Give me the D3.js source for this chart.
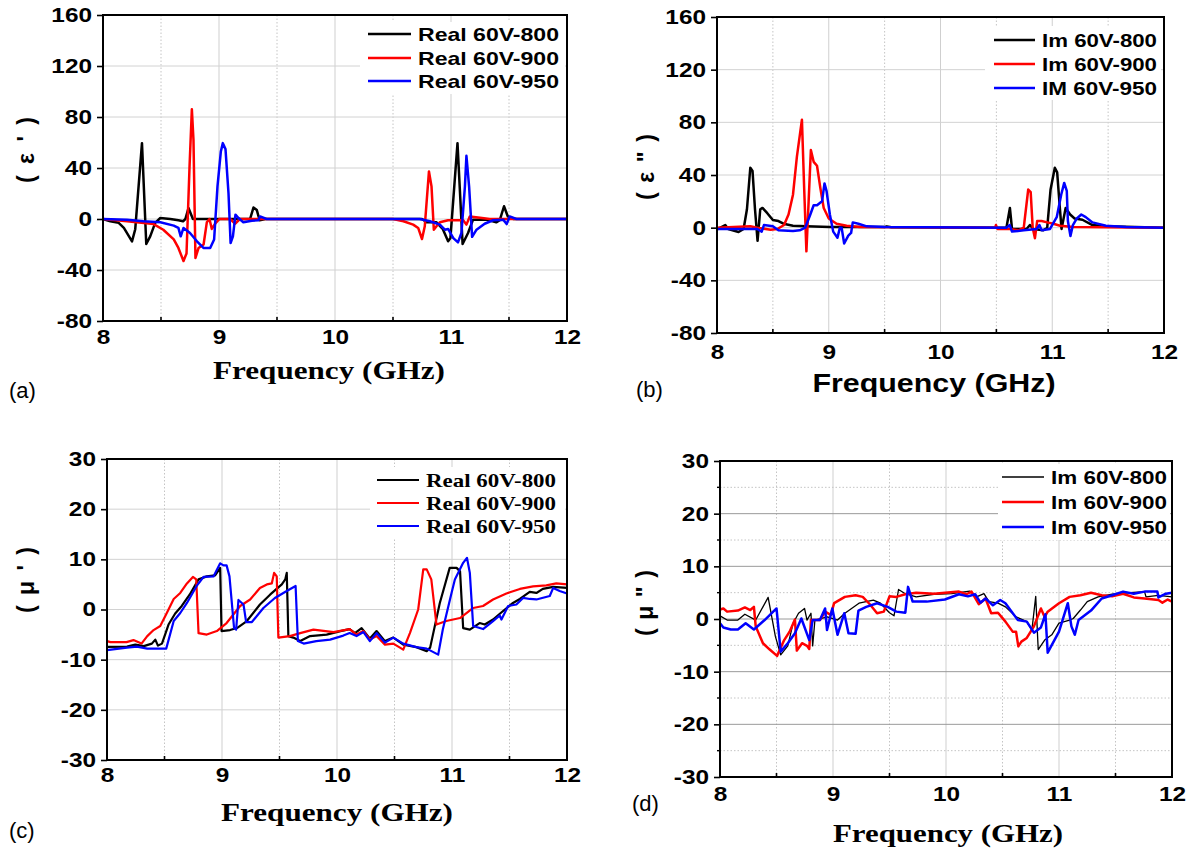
<!DOCTYPE html>
<html>
<head>
<meta charset="utf-8">
<script src="https://cdn.jsdelivr.net/npm/d3@7"></script>
<style>
  body { margin: 0; background: #fff; }
  svg { display: block; }
</style>
</head>
<body>
<div id="chart"></div>
<script>
// ---- data: [frequency GHz, value] ----
var xTicks = [8, 9, 10, 11, 12];
var epsTicks = [-80, -40, 0, 40, 80, 120, 160];
var muTicks = [-30, -20, -10, 0, 10, 20, 30];
var muMinor = [-25, -15, -5, 5, 15, 25];

var realLabels = ["Real 60V-800", "Real 60V-900", "Real 60V-950"];
var epsImLabels = ["Im 60V-800", "Im 60V-900", "IM 60V-950"];
var muImLabels = ["Im 60V-800", "Im 60V-900", "Im 60V-950"];

// (a) real permittivity
var epsReal800 = [[8.0,0],[8.063,-1.8],[8.135,-3],[8.18,-7],[8.25,-17.5],[8.278,-8],[8.336,59.5],[8.373,-19.6],[8.407,-13.6],[8.45,-3],[8.494,0.8],[8.58,0],[8.65,-1],[8.69,-1.8],[8.71,0],[8.737,8.6],[8.775,0],[9.268,0],[9.297,9],[9.326,7],[9.35,-1],[9.40,0],[10.75,0],[10.79,-2.6],[10.875,-2.6],[10.93,-8],[10.975,-17.5],[10.995,-15],[11.056,59.5],[11.10,-19.6],[11.147,-11],[11.19,-0.5],[11.305,-0.5],[11.39,-2.6],[11.42,-1],[11.457,10],[11.49,2],[11.535,0],[12,0]];
var epsReal900 = [[8.0,0],[8.207,-1.8],[8.436,-4],[8.52,-8.4],[8.61,-16],[8.65,-22.7],[8.694,-33],[8.72,-27],[8.746,41],[8.766,86],[8.78,62],[8.797,-30.5],[8.824,-22.7],[8.867,-20],[8.895,-2.6],[8.918,0],[8.938,-7.8],[8.967,-3.7],[9.004,0],[9.096,0],[9.14,-3.7],[9.18,0],[10.5,0],[10.59,-1.8],[10.674,-4.4],[10.717,-7],[10.75,-15.7],[10.774,-5.7],[10.81,37.3],[10.832,25.6],[10.852,-8.4],[10.875,-5.7],[10.904,-2.6],[10.975,-1],[11.105,-1],[11.133,-4.4],[11.162,2],[11.25,1],[11.334,0],[12,0]];
var epsReal950 = [[8.0,0],[8.207,-0.5],[8.35,-1.8],[8.494,-2.6],[8.61,-5.2],[8.65,-7],[8.67,-13.6],[8.694,-7],[8.75,-11],[8.81,-17.5],[8.866,-22.7],[8.924,-22.7],[8.958,-16],[8.987,25.6],[9.016,53],[9.033,59.5],[9.056,54.8],[9.082,20],[9.10,-18.8],[9.12,-13.6],[9.142,3.4],[9.168,0.8],[9.21,-2.6],[9.283,-1.3],[9.34,-1],[9.354,2],[9.41,0],[10.73,0],[10.818,-1.8],[10.904,-4.4],[10.947,-8.4],[10.975,-7.8],[11.02,-15],[11.06,-18.3],[11.09,-11],[11.12,25.6],[11.133,49.6],[11.156,25.6],[11.182,-14],[11.22,-8.4],[11.29,-3.7],[11.363,-1],[11.45,-0.5],[11.48,-4],[11.506,2],[11.564,0],[12,0]];

// (b) imaginary permittivity
var epsIm800 = [[8.0,-1.3],[8.074,2],[8.10,-1],[8.193,-3.3],[8.238,-1],[8.268,14],[8.298,45.5],[8.318,43],[8.34,14],[8.363,-10],[8.387,14],[8.407,15],[8.45,11],[8.50,5.8],[8.55,5],[8.595,3],[8.68,1.5],[8.80,1],[9.01,0.5],[9.5,0.5],[9.52,1],[9.56,0.3],[10.59,0],[10.621,15],[10.64,-1],[10.77,-1],[10.80,2],[10.83,-1],[10.92,-2],[10.955,0],[10.985,29],[11.023,45.5],[11.044,42],[11.068,15],[11.083,-1],[11.12,15],[11.16,10],[11.2,7],[11.27,6],[11.36,2],[11.48,1],[12,0]];
var epsIm900 = [[8.0,0],[8.298,1],[8.36,0],[8.48,-1.5],[8.54,-1],[8.6,2],[8.64,10],[8.68,25],[8.715,54],[8.76,82],[8.78,30],[8.80,-18],[8.82,20],[8.84,59],[8.865,50],[8.895,47],[8.925,30],[8.955,15],[9.0,7],[9.07,3],[9.16,1.5],[9.28,0.5],[10.49,0],[10.496,2],[10.51,-1],[10.62,-1],[10.70,-2],[10.745,0],[10.785,29],[10.807,27],[10.825,0],[10.845,-8],[10.865,5],[10.905,5],[10.955,4],[11.01,3],[11.07,1.5],[11.19,0.5],[12,0]];
var epsIm950 = [[8.0,-1],[8.268,-1],[8.36,-1],[8.40,-3],[8.42,2],[8.50,1],[8.55,-2],[8.68,-2.5],[8.74,-2],[8.79,0],[8.835,10],[8.865,17],[8.895,17],[8.94,20],[8.962,33.6],[8.98,28],[9.01,10],[9.04,-3],[9.078,-7.6],[9.10,0],[9.115,0],[9.138,-12],[9.175,-6],[9.2,-4],[9.215,4],[9.265,3],[9.34,1],[9.5,0.5],[10.59,0],[10.62,2],[10.64,-3],[10.745,-2],[10.86,-1],[10.885,2],[10.905,-2],[10.98,-1],[11.04,8],[11.08,25],[11.107,34],[11.13,28],[11.14,5],[11.163,-6.3],[11.185,2],[11.22,7],[11.26,10],[11.30,8],[11.36,4],[11.48,1.5],[11.66,0.5],[12,0]];

// (c) real permeability
var muReal800 = [[8.0,-7.45],[8.174,-7.4],[8.246,-7],[8.32,-7.3],[8.39,-6.8],[8.42,-6],[8.443,-7.2],[8.478,-6.8],[8.535,-3],[8.593,-0.8],[8.65,0.7],[8.72,3],[8.796,6],[8.868,6.6],[8.94,6.8],[8.984,8.3],[8.996,-4.3],[9.07,-4.1],[9.13,-3.7],[9.216,-2.3],[9.33,1],[9.42,3],[9.52,5],[9.55,6],[9.563,7.3],[9.577,-5.3],[9.62,-5.6],[9.68,-6.3],[9.766,-5.3],[9.91,-5],[10.03,-4.3],[10.11,-3.9],[10.156,-4.7],[10.214,-3.7],[10.286,-5.8],[10.344,-4.3],[10.417,-6.3],[10.49,-5.6],[10.576,-7],[10.69,-7.5],[10.78,-8.3],[10.81,-7.6],[10.894,1.3],[10.98,8.3],[11.04,8.3],[11.07,7.6],[11.097,-3.7],[11.155,-4],[11.24,-2.7],[11.285,-3],[11.357,-2],[11.444,-0.3],[11.53,1.3],[11.59,2.1],[11.676,3.5],[11.734,3.3],[11.79,4.1],[11.88,4.5],[12,4.3]];
var muReal900 = [[8.0,-6.3],[8.03,-6.5],[8.17,-6.5],[8.23,-6.1],[8.30,-6.8],[8.35,-5.3],[8.405,-4.1],[8.463,-3.3],[8.52,-0.7],[8.58,2.1],[8.637,3.3],[8.695,5.2],[8.747,6.5],[8.776,6],[8.796,-4.7],[8.868,-5],[8.955,-4.3],[9.04,-2.7],[9.158,0.7],[9.245,2],[9.33,4.3],[9.39,5],[9.433,5.2],[9.453,7.3],[9.476,6.6],[9.49,-5.6],[9.59,-5.3],[9.68,-4.7],[9.795,-4],[9.97,-4.5],[10.11,-3.9],[10.17,-5],[10.23,-4.3],[10.286,-6],[10.344,-5.3],[10.417,-7],[10.49,-6.8],[10.576,-8],[10.634,-4.7],[10.706,0],[10.75,8],[10.78,8],[10.82,6],[10.865,-3],[10.95,-2.3],[11.07,-1.7],[11.184,0.3],[11.27,0.7],[11.357,2],[11.473,3.2],[11.59,4.1],[11.705,4.6],[11.82,4.8],[11.907,5.2],[12,5]];
var muReal950 = [[8.0,-8.1],[8.174,-7.6],[8.26,-7.4],[8.35,-7.8],[8.515,-7.8],[8.58,-2.3],[8.637,-0.7],[8.695,1.3],[8.78,4.7],[8.84,6.5],[8.926,6.6],[8.984,9.2],[9.013,8.8],[9.04,8.8],[9.065,6.6],[9.105,-3.7],[9.123,-4],[9.143,1.9],[9.187,1],[9.21,-2.5],[9.26,-2.5],[9.36,0.3],[9.46,2.3],[9.563,3.7],[9.64,4.7],[9.66,-6.3],[9.71,-6.8],[9.82,-6.3],[9.94,-6],[10.055,-5.2],[10.11,-4.7],[10.17,-5.3],[10.23,-4.5],[10.286,-6.3],[10.344,-4.7],[10.417,-6.6],[10.49,-5.6],[10.576,-6.8],[10.69,-7.5],[10.78,-7.8],[10.88,-9],[10.92,-4],[10.996,3.3],[11.025,6],[11.097,9.3],[11.13,10.3],[11.155,7.3],[11.184,-3.3],[11.27,-3.9],[11.357,-2.3],[11.415,-1.2],[11.43,-2],[11.488,0.7],[11.56,1],[11.618,2.3],[11.676,2.1],[11.734,2],[11.85,2.7],[11.88,4.3],[11.936,3.7],[12,3.2]];

// (d) imaginary permeability
var muIm800 = [[8.0,0.6],[8.063,-0.2],[8.158,-0.2],[8.22,0.9],[8.316,-0.2],[8.426,4.1],[8.49,-3.3],[8.537,-6.8],[8.6,-5.1],[8.647,-0.8],[8.695,1.1],[8.748,2],[8.77,-0.2],[8.805,1.1],[8.82,-5.1],[8.84,-0.2],[8.95,0.4],[9.04,-0.2],[9.105,1.1],[9.23,3],[9.357,3.6],[9.42,3],[9.5,1.2],[9.54,0.6],[9.58,5.6],[9.64,4.8],[9.736,4.2],[9.894,4.7],[10.05,4.8],[10.21,5.3],[10.27,4.2],[10.336,4.8],[10.38,3.3],[10.46,3],[10.526,2.3],[10.62,0.4],[10.715,-0.5],[10.76,-2.1],[10.794,4.3],[10.816,-5.8],[10.873,-4],[10.936,-3],[11.0,-0.8],[11.094,-0.2],[11.126,0.1],[11.19,1.7],[11.25,3.3],[11.346,4.2],[11.47,4.7],[11.63,5],[11.757,5.2],[11.77,4.2],[11.88,4.5],[12,4.2]];
var muIm900 = [[8.0,1.8],[8.03,2],[8.063,1.4],[8.158,1.6],[8.22,2.2],[8.268,1.7],[8.3,2.3],[8.316,-1.4],[8.38,-4.6],[8.44,-5.8],[8.505,-7],[8.568,-4],[8.616,-2.4],[8.663,-0.1],[8.68,-6],[8.726,-4.6],[8.77,-5.1],[8.79,-5.7],[8.805,-0.2],[8.884,-0.2],[8.93,1.4],[8.98,0.8],[9.01,3],[9.105,4.2],[9.2,4.5],[9.263,4.2],[9.326,2.8],[9.39,1.1],[9.45,1.4],[9.5,4.3],[9.56,4.2],[9.64,4.7],[9.736,5],[9.894,4.8],[10.115,5.2],[10.18,4.7],[10.226,5.2],[10.29,2.8],[10.35,3.9],[10.4,1.1],[10.46,1.2],[10.526,-0.5],[10.59,-2.4],[10.62,-2.4],[10.64,-5.2],[10.667,-4.3],[10.715,-3.6],[10.778,-1.4],[10.84,2],[10.873,0.4],[10.9,1.4],[11.0,3],[11.094,4.2],[11.19,4.5],[11.283,5],[11.378,4.5],[11.47,4.3],[11.567,4.8],[11.662,4.1],[11.757,3.9],[11.88,3.6],[11.915,3.1],[11.962,3.7],[12,3.3]];
var muIm950 = [[8.0,-0.8],[8.03,-1.6],[8.095,-2],[8.158,-2],[8.227,-0.8],[8.3,-2],[8.395,-0.2],[8.5,2],[8.537,-6.2],[8.6,-4.6],[8.663,-2.7],[8.72,0.1],[8.79,-4],[8.82,-0.2],[8.884,-0.2],[8.93,2],[8.947,-2.1],[8.994,2],[9.04,-3],[9.1,1.1],[9.137,-2.7],[9.2,-2.8],[9.225,1.6],[9.294,2.3],[9.39,3],[9.484,2.3],[9.56,1.4],[9.64,1.2],[9.664,6.1],[9.705,3.3],[9.83,3.3],[9.99,3.7],[10.115,4.7],[10.194,4.3],[10.258,4.7],[10.305,3.1],[10.35,3.9],[10.415,2.6],[10.48,3.6],[10.526,3],[10.636,-0.2],[10.715,-0.5],[10.778,-2.6],[10.84,-1.6],[10.88,0.9],[10.9,-6.4],[11.0,-2.4],[11.078,3],[11.11,-1.4],[11.14,-3],[11.173,-0.2],[11.283,1.6],[11.378,3.9],[11.47,4.5],[11.567,5.2],[11.662,4.8],[11.757,5.2],[11.87,5.2],[11.88,4.1],[11.946,4.8],[12,5]];

var colors = ["#000000", "#ff0000", "#0000ff"];

var svg = d3.select("#chart").append("svg")
  .attr("width", 1190)
  .attr("height", 850)
  .style("font-family", "'Liberation Sans', Arial, sans-serif");

svg.append("rect").attr("width", 1190).attr("height", 850).attr("fill", "#fff");

var panels = [
  { id: "a", left: 103, right: 567, top: 15, bottom: 321, yDomain: [-80, 160], yTicks: epsTicks, minor: [],
    series: [epsReal800, epsReal900, epsReal950], labels: realLabels, widths: [2.5, 2.5, 2.5],
    legend: { bx: 360, by: 22, bw: 205, bh: 72, lx1: 368, lx2: 411, tx: 418, rows: [34, 58, 81], len: 141, serif: false, size: 19 },
    title: { x: 329, y: 370, len: 232, serif: true },
    yTitle: { x: 26, y: 150, text: "( ε ' )" },
    letter: { x: 9, y: 390, text: "(a)" },
    tickY: 337, hMajor: "#d2d2d2" },
  { id: "b", left: 717, right: 1164, top: 17, bottom: 333, yDomain: [-80, 160], yTicks: epsTicks, minor: [],
    series: [epsIm800, epsIm900, epsIm950], labels: epsImLabels, widths: [2.5, 2.5, 2.5],
    legend: { bx: 985, by: 26, bw: 176, bh: 74, lx1: 994, lx2: 1035, tx: 1042, rows: [40, 64, 88], len: 115, serif: false, size: 19 },
    title: { x: 934, y: 383, len: 243, serif: false },
    yTitle: { x: 646, y: 167, text: "( ε \" )" },
    letter: { x: 636, y: 389, text: "(b)" },
    tickY: 352, hMajor: "#d2d2d2" },
  { id: "c", left: 107, right: 567, top: 459, bottom: 760, yDomain: [-30, 30], yTicks: muTicks, minor: [],
    series: [muReal800, muReal900, muReal950], labels: realLabels, widths: [2.2, 2.2, 2.2],
    legend: { bx: 370, by: 467, bw: 195, bh: 71, lx1: 377, lx2: 419, tx: 426, rows: [480, 503, 526], len: 130, serif: true, size: 19 },
    title: { x: 337, y: 812, len: 232, serif: true },
    yTitle: { x: 26, y: 580, text: "( μ ' )" },
    letter: { x: 9, y: 830, text: "(c)" },
    tickY: 775, hMajor: "#d2d2d2" },
  { id: "d", left: 720, right: 1172, top: 461, bottom: 777, yDomain: [-30, 30], yTicks: muTicks, minor: muMinor,
    series: [muIm800, muIm900, muIm950], labels: muImLabels, widths: [1.3, 2.5, 2.5],
    legend: { bx: 998, by: 464, bw: 172, bh: 76, lx1: 1002, lx2: 1044, tx: 1051, rows: [477, 502, 527], len: 116, serif: false, size: 19 },
    title: { x: 948, y: 833, len: 230, serif: true },
    yTitle: { x: 645, y: 603, text: "( μ \" )" },
    letter: { x: 632, y: 803, text: "(d)" },
    tickY: 794, hMajor: "#9a9a9a" }
];

var serifFont = "'Liberation Serif', 'Times New Roman', serif";
var sansFont = "'Liberation Sans', Arial, sans-serif";
var stretch = 1.22;

function drawPanel(p) {
  var x = d3.scaleLinear().domain([8, 12]).range([p.left, p.right]);
  var y = d3.scaleLinear().domain(p.yDomain).range([p.bottom, p.top]);
  var g = svg.append("g").attr("class", "panel-" + p.id);
  var halves = d3.range(8.5, 12, 1);

  // grid
  g.selectAll(".vmaj").data(xTicks.slice(1, -1)).join("line")
    .attr("x1", d => x(d)).attr("x2", d => x(d))
    .attr("y1", p.top).attr("y2", p.bottom)
    .attr("stroke", "#cfcfcf").attr("stroke-width", 1);
  g.selectAll(".vmin").data(halves).join("line")
    .attr("x1", d => x(d)).attr("x2", d => x(d))
    .attr("y1", p.top).attr("y2", p.bottom)
    .attr("stroke", "#c4c4c4").attr("stroke-width", 1).attr("stroke-dasharray", "1.5,2");
  g.selectAll(".hmin").data(p.minor).join("line")
    .attr("x1", p.left).attr("x2", p.right)
    .attr("y1", d => y(d)).attr("y2", d => y(d))
    .attr("stroke", "#c4c4c4").attr("stroke-width", 1).attr("stroke-dasharray", "1.5,2");
  g.selectAll(".hmaj").data(p.yTicks.slice(1, -1)).join("line")
    .attr("x1", p.left).attr("x2", p.right)
    .attr("y1", d => y(d)).attr("y2", d => y(d))
    .attr("stroke", p.hMajor).attr("stroke-width", 1);

  // legend background hides grid
  var L = p.legend;
  g.append("rect").attr("x", L.bx).attr("y", L.by).attr("width", L.bw).attr("height", L.bh).attr("fill", "#fff");

  // curves
  var line = d3.line().x(d => x(d[0])).y(d => y(d[1]));
  p.series.forEach(function (s, i) {
    g.append("path").datum(s)
      .attr("d", line)
      .attr("fill", "none")
      .attr("stroke", colors[i])
      .attr("stroke-width", p.widths[i])
      .attr("stroke-linejoin", "round");
  });

  // legend
  p.labels.forEach(function (lab, i) {
    g.append("line")
      .attr("x1", L.lx1).attr("x2", L.lx2)
      .attr("y1", L.rows[i]).attr("y2", L.rows[i])
      .attr("stroke", colors[i]).attr("stroke-width", p.widths[i]);
    g.append("text")
      .attr("x", L.tx).attr("y", L.rows[i])
      .attr("dy", "0.35em")
      .attr("font-family", L.serif ? serifFont : sansFont)
      .attr("font-weight", "bold")
      .attr("font-size", L.size)
      .attr("textLength", L.len)
      .attr("lengthAdjust", "spacingAndGlyphs")
      .text(lab);
  });

  // axes (plain hyphen for negatives, as in the figure)
  var fmt = function (d) { return String(d); };
  var yAxis = d3.axisLeft(y).tickValues(p.yTicks).tickFormat(fmt).tickSizeInner(6).tickSizeOuter(0).tickPadding(5);
  var ya = g.append("g").attr("transform", "translate(" + p.left + ",0)").call(yAxis);
  ya.select(".domain").remove();
  ya.selectAll("line").attr("stroke", "#000").attr("stroke-width", 1.6);
  ya.selectAll("text")
    .attr("font-family", sansFont).attr("font-weight", "bold").attr("font-size", 20)
    .attr("fill", "#000")
    .attr("x", -11 / stretch)
    .attr("transform", "scale(" + stretch + ",1)");

  var xAxis = d3.axisBottom(x).tickValues(xTicks).tickFormat(fmt)
    .tickSize(0).tickPadding(p.tickY - p.bottom - 7);
  var xa = g.append("g").attr("transform", "translate(0," + p.bottom + ")").call(xAxis);
  xa.select(".domain").remove();
  xa.selectAll("text")
    .attr("font-family", sansFont).attr("font-weight", "bold").attr("font-size", 20)
    .attr("fill", "#000")
    .attr("transform", "scale(" + stretch + ",1)");

  // small inward ticks at half GHz
  g.selectAll(".xminor").data(halves).join("line")
    .attr("x1", d => x(d)).attr("x2", d => x(d))
    .attr("y1", p.bottom).attr("y2", p.bottom - 4)
    .attr("stroke", "#000").attr("stroke-width", 1.6);
  g.selectAll(".yminor").data(p.minor).join("line")
    .attr("x1", p.left).attr("x2", p.left - 3)
    .attr("y1", d => y(d)).attr("y2", d => y(d))
    .attr("stroke", "#000").attr("stroke-width", 1.4);

  // frame
  g.append("rect")
    .attr("x", p.left).attr("y", p.top)
    .attr("width", p.right - p.left).attr("height", p.bottom - p.top)
    .attr("fill", "none").attr("stroke", "#000").attr("stroke-width", 2);

  // axis titles
  g.append("text")
    .attr("x", p.title.x).attr("y", p.title.y).attr("dy", "0.35em")
    .attr("text-anchor", "middle")
    .attr("font-family", p.title.serif ? serifFont : sansFont)
    .attr("font-weight", "bold").attr("font-size", 25)
    .attr("textLength", p.title.len).attr("lengthAdjust", "spacingAndGlyphs")
    .text("Frequency (GHz)");

  g.append("text")
    .attr("transform", "translate(" + p.yTitle.x + "," + p.yTitle.y + ") rotate(-90)")
    .attr("dy", "0.35em")
    .attr("text-anchor", "middle")
    .attr("font-family", sansFont)
    .attr("font-weight", "bold").attr("font-size", 23)
    .attr("textLength", 66).attr("lengthAdjust", "spacing")
    .text(p.yTitle.text);

  g.append("text")
    .attr("x", p.letter.x).attr("y", p.letter.y).attr("dy", "0.35em")
    .attr("font-family", sansFont).attr("font-size", 22)
    .text(p.letter.text);
}

panels.forEach(drawPanel);
</script>
</body>
</html>
